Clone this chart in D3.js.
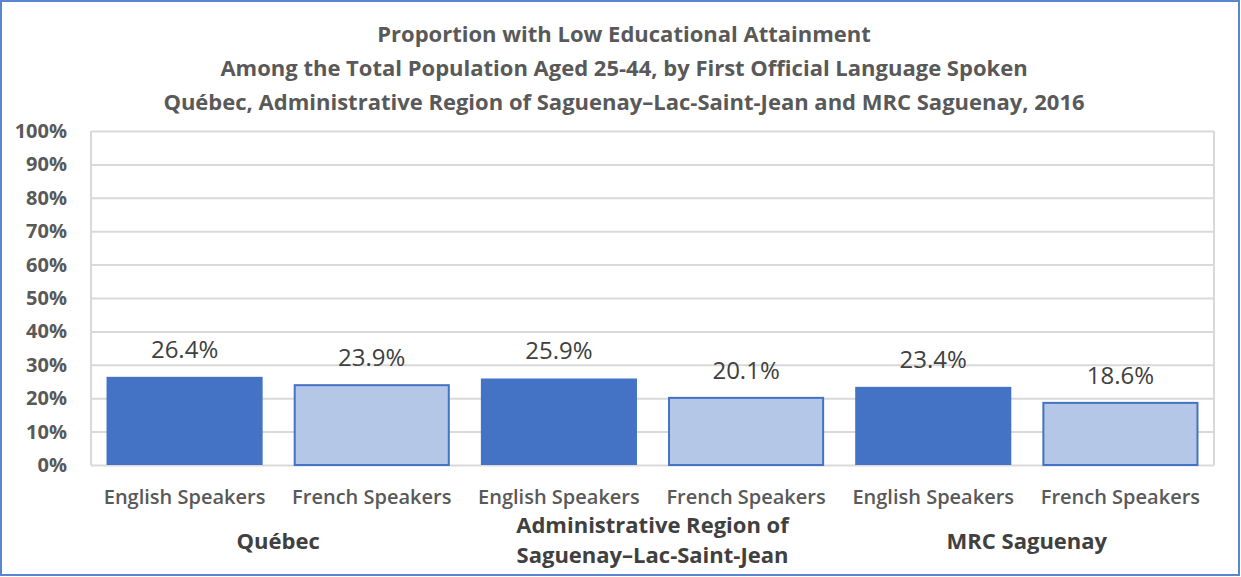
<!DOCTYPE html>
<html>
<head>
<meta charset="utf-8">
<script src="https://cdn.jsdelivr.net/npm/d3@7"></script>
<style>
body { margin:0; background:#fff; }
svg text { font-family: "Open Sans", sans-serif; }
</style>
</head>
<body>
<div id="chart"></div>
<script>
var titleLines = [
    "Proportion with Low Educational Attainment",
    "Among the Total Population Aged 25-44, by First Official Language Spoken",
    "Québec, Administrative Region of Saguenay\u2013Lac-Saint-Jean and MRC Saguenay, 2016"
];
var groups = [["Québec"], ["Administrative Region of", "Saguenay\u2013Lac-Saint-Jean"], ["MRC Saguenay"]];
var speakers = ["English Speakers", "French Speakers"];
var values = [26.4, 23.9, 25.9, 20.1, 23.4, 18.6];
var yTicks = [0, 10, 20, 30, 40, 50, 60, 70, 80, 90, 100];

var W = 1241, H = 577;
var margin = {t:131, r:27, b:112, l:91};
var width = W - margin.l - margin.r,
    height = H - margin.t - margin.b;

var svg = d3.select('#chart').append('svg')
    .attr('width', W).attr('height', H);

svg.append('rect')
    .attr('x', 1).attr('y', 1).attr('width', W - 3).attr('height', H - 3)
    .attr('fill', '#fff').attr('stroke', '#5b85cf').attr('stroke-width', 2);

var bars = [];
groups.forEach(function(g, i){
    speakers.forEach(function(s, j){
        bars.push({key: i + '-' + j, group: i, speaker: s, lang: j, value: values[i * 2 + j]});
    });
});

var scaleX = d3.scaleBand().domain(bars.map(function(d){ return d.key; }))
    .range([0, width]).paddingInner(0.166).paddingOuter(0.083);
var scaleY = d3.scaleLinear().domain([0, 100]).range([height, 0]);

var plot = svg.append('g').attr('transform', 'translate(' + margin.l + ',' + margin.t + ')');

// grid
var yAxis = plot.append('g')
    .call(d3.axisLeft(scaleY).tickValues(yTicks).tickSize(-width).tickFormat(function(d){ return d + '%'; }));
yAxis.select('.domain').remove();
yAxis.selectAll('line').attr('stroke', '#d9d9d9').attr('stroke-width', 2);
yAxis.selectAll('text')
    .attr('x', -24).attr('fill', '#595959')
    .style('font-size', '20px').style('font-weight', 'bold');

plot.append('line').attr('x1', 0).attr('x2', 0).attr('y1', 0).attr('y2', height)
    .attr('stroke', '#d9d9d9').attr('stroke-width', 2);
plot.append('line').attr('x1', width).attr('x2', width).attr('y1', 0).attr('y2', height)
    .attr('stroke', '#d9d9d9').attr('stroke-width', 2);

plot.selectAll('.bar')
    .data(bars).enter().append('rect')
    .attr('class', 'bar')
    .attr('x', function(d){ return scaleX(d.key) + (d.lang ? 1 : 0); })
    .attr('width', function(d){ return scaleX.bandwidth() - (d.lang ? 2 : 0); })
    .attr('y', function(d){ return scaleY(d.value); })
    .attr('height', function(d){ return height - scaleY(d.value); })
    .attr('fill', function(d){ return d.lang ? '#b4c7e7' : '#4472c4'; })
    .attr('stroke', function(d){ return d.lang ? '#4472c4' : 'none'; })
    .attr('stroke-width', 2);

plot.selectAll('.lbl')
    .data(bars).enter().append('text')
    .attr('class', 'lbl')
    .attr('x', function(d){ return scaleX(d.key) + scaleX.bandwidth() / 2; })
    .attr('y', function(d){ return scaleY(d.value) - 19; })
    .attr('text-anchor', 'middle')
    .attr('fill', '#404040')
    .style('font-size', '24px')
    .text(function(d){ return d.value.toFixed(1) + '%'; });

plot.selectAll('.cat')
    .data(bars).enter().append('text')
    .attr('class', 'cat')
    .attr('x', function(d){ return scaleX(d.key) + scaleX.bandwidth() / 2; })
    .attr('y', height + 39)
    .attr('text-anchor', 'middle')
    .attr('fill', '#595959')
    .style('font-size', '20px').style('font-weight', '600')
    .text(function(d){ return d.speaker; });

var gw = width / groups.length;
groups.forEach(function(g, i){
    var t = plot.append('text')
        .attr('x', gw * i + gw / 2)
        .attr('y', g.length > 1 ? height + 68 : height + 84)
        .attr('text-anchor', 'middle')
        .attr('fill', '#404040')
        .style('font-size', '22px').style('font-weight', 'bold');
    g.forEach(function(line, k){
        t.append('tspan').attr('x', gw * i + gw / 2).attr('dy', k ? 30 : 0).text(line);
    });
});

svg.selectAll('.title')
    .data(titleLines).enter().append('text')
    .attr('class', 'title')
    .attr('x', 624)
    .attr('y', function(d, i){ return 42 + i * 34; })
    .attr('text-anchor', 'middle')
    .attr('fill', '#595959')
    .style('font-size', '22px').style('font-weight', 'bold')
    .text(function(d){ return d; });
</script>
</body>
</html>
